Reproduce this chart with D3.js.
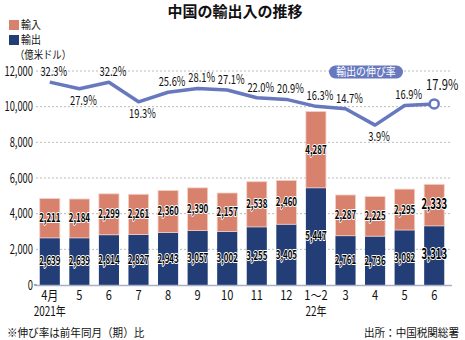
<!DOCTYPE html>
<html>
<head>
<meta charset="utf-8">
<script src="https://cdn.jsdelivr.net/npm/d3@7"></script>
<style>
  body { margin: 0; background: #fff; }
  text { font-family: "Noto Sans CJK JP", sans-serif; fill: #111; }
  .val { paint-order: stroke; stroke: #fff; stroke-width: 2px; stroke-linejoin: round; font-weight: bold; fill: #000; }
</style>
</head>
<body>
<svg id="chart" width="465" height="340"></svg>
<script>
"use strict";

// monthly trade values (100M USD) and export growth rate (% yoy)
var months = ['4月', '5', '6', '7', '8', '9', '10', '11', '12', '1〜2', '3', '4', '5', '6'];
var exports = [2639, 2639, 2814, 2827, 2943, 3057, 3002, 3255, 3405, 5447, 2761, 2736, 3082, 3313];
var imports = [2211, 2184, 2299, 2261, 2360, 2390, 2157, 2538, 2460, 4287, 2287, 2225, 2295, 2333];
var growth = [32.3, 27.9, 32.2, 19.3, 25.6, 28.1, 27.1, 22.0, 20.9, 16.3, 14.7, 3.9, 16.9, 17.9];
// whether the growth label sits below the line
var growthBelow = [false, true, false, true, false, false, false, false, false, false, false, true, false, false];
var yTicks = [0, 2000, 4000, 6000, 8000, 10000, 12000];

var svg = d3.select('#chart');
var navy = '#233e77', salmon = '#d8826d', lineColor = '#6778bf';
var fmt = d3.format(',');

var x = d3.scaleBand().domain(d3.range(months.length)).range([35, 449]).paddingInner(0.32).paddingOuter(0.16);
var y = d3.scaleLinear().domain([0, 12000]).range([285, 71]);
var yr = d3.scaleLinear().domain([0, 40]).range([131, 70.5]);
var cx = i => x(i) + x.bandwidth() / 2;

// condensed text: position via transform and squeeze horizontally
function place(sel, fx, fy, sx) {
  return sel.attr('transform', function(d, i) {
    var px = typeof fx === 'function' ? fx(d, i) : fx;
    var py = typeof fy === 'function' ? fy(d, i) : fy;
    return 'translate(' + px + ',' + py + ') scale(' + sx + ',1)';
  });
}

// title
svg.append('text')
  .attr('x', 235).attr('y', 17)
  .attr('text-anchor', 'middle')
  .attr('font-size', 15).attr('font-weight', 'bold')
  .text('中国の輸出入の推移');

// legend
var legend = [['輸入', salmon, 25], ['輸出', navy, 40]];
legend.forEach(function(l) {
  svg.append('rect').attr('x', 9).attr('y', l[2] - 5).attr('width', 10).attr('height', 10).attr('fill', l[1]);
  place(svg.append('text'), 21, l[2] + 4, 0.9)
    .attr('font-size', 11).text(l[0]);
});
place(svg.append('text'), 15, 59, 0.85)
  .attr('font-size', 11).text('（億米ドル）');

// gridlines + y labels
svg.append('g').selectAll('line')
  .data(yTicks.filter(d => d > 0))
  .join('line')
  .attr('x1', 36).attr('x2', 452)
  .attr('y1', d => y(d)).attr('y2', d => y(d))
  .attr('stroke', '#aaa').attr('stroke-width', 0.8).attr('stroke-dasharray', '2,2');

place(svg.append('g').selectAll('text')
  .data(yTicks)
  .join('text'), 33, d => y(d) + 4.5, 0.72)
  .attr('text-anchor', 'end')
  .attr('font-size', 13)
  .text(d => fmt(d));

svg.append('line').attr('x1', 34).attr('x2', 37).attr('y1', y(0)).attr('y2', y(0))
  .attr('stroke', '#444').attr('stroke-width', 1);

// stacked bars
var bars = svg.append('g');
bars.selectAll('rect.exp')
  .data(exports)
  .join('rect')
  .attr('class', 'exp')
  .attr('x', (d, i) => x(i)).attr('width', x.bandwidth())
  .attr('y', d => y(d)).attr('height', d => y(0) - y(d))
  .attr('fill', navy);

bars.selectAll('rect.imp')
  .data(imports)
  .join('rect')
  .attr('class', 'imp')
  .attr('x', (d, i) => x(i)).attr('width', x.bandwidth())
  .attr('y', (d, i) => y(exports[i] + d)).attr('height', (d, i) => y(exports[i]) - y(exports[i] + d))
  .attr('fill', salmon)
  .attr('stroke', '#f3d3ca').attr('stroke-width', 0.8);

// baseline
svg.append('line').attr('x1', 36).attr('x2', 452).attr('y1', y(0) + 0.5).attr('y2', y(0) + 0.5)
  .attr('stroke', '#a8b0c8').attr('stroke-width', 1.5);

// value labels inside bars
var last = months.length - 1;
place(bars.selectAll('text.expv')
  .data(exports)
  .join('text')
  .attr('class', 'val'), (d, i) => cx(i), d => (y(0) + y(d)) / 2 + 4, 0.66)
  .attr('text-anchor', 'middle')
  .attr('font-size', (d, i) => i === last ? 14.5 : 12)
  .text(d => fmt(d));

place(bars.selectAll('text.impv')
  .data(imports)
  .join('text')
  .attr('class', 'val'), (d, i) => cx(i), (d, i) => (y(exports[i]) + y(exports[i] + d)) / 2 + 4, 0.66)
  .attr('text-anchor', 'middle')
  .attr('font-size', (d, i) => i === last ? 14.5 : 12)
  .text(d => fmt(d));

// export growth line
var line = d3.line().x((d, i) => cx(i)).y(d => yr(d));
svg.append('path')
  .datum(growth)
  .attr('d', line)
  .attr('fill', 'none')
  .attr('stroke', lineColor).attr('stroke-width', 3.5)
  .attr('stroke-linejoin', 'round');

svg.append('circle')
  .attr('cx', cx(last)).attr('cy', yr(growth[last])).attr('r', 4.5)
  .attr('fill', '#fff').attr('stroke', lineColor).attr('stroke-width', 2.5);

place(svg.append('g').selectAll('text')
  .data(growth)
  .join('text'),
  (d, i) => cx(i) + (i === last ? 8 : 4),
  (d, i) => growthBelow[i] ? yr(d) + 16 : yr(d) - (i === last ? 14 : 6), 0.75)
  .attr('text-anchor', 'middle')
  .attr('font-size', (d, i) => i === last ? 15 : 12.5)
  .text(d => d.toFixed(1) + '%');

// series tag
var tag = svg.append('g').attr('transform', 'translate(366,72)');
tag.append('rect').attr('x', -37).attr('y', -6.5).attr('width', 74).attr('height', 13).attr('rx', 6.5)
  .attr('fill', lineColor);
place(tag.append('text'), 0, 4, 0.9).attr('text-anchor', 'middle')
  .attr('font-size', 11).style('fill', '#fff').text('輸出の伸び率');

// x labels
place(svg.append('g').selectAll('text')
  .data(months)
  .join('text'), (d, i) => cx(i), 300, 0.85)
  .attr('text-anchor', 'middle')
  .attr('font-size', 13)
  .text(d => d);

place(svg.append('text'), cx(0), 316, 0.8).attr('text-anchor', 'middle')
  .attr('font-size', 12.5).text('2021年');
place(svg.append('text'), cx(9), 316, 0.8).attr('text-anchor', 'middle')
  .attr('font-size', 12.5).text('22年');

// footnotes
place(svg.append('text'), 7, 337, 0.92)
  .attr('font-size', 11.5).text('※伸び率は前年同月（期）比');
place(svg.append('text'), 459, 337, 0.92).attr('text-anchor', 'end')
  .attr('font-size', 11.5).text('出所：中国税関総署');
</script>
</body>
</html>
